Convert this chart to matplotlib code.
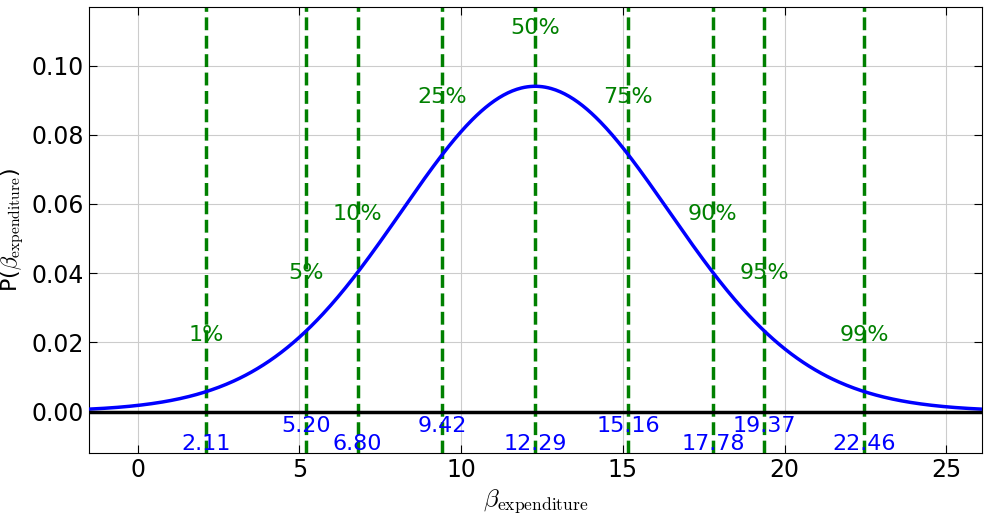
import math
import numpy as np
import matplotlib
matplotlib.use("Agg")
import matplotlib.pyplot as plt

plt.rcParams["mathtext.fontset"] = "cm"

percent_labels = ["1%", "5%", "10%", "25%", "50%", "75%", "90%", "95%", "99%"]
quantiles = [2.11, 5.20, 6.80, 9.42, 12.29, 15.16, 17.78, 19.37, 22.46]
label_y = [0.022, 0.040, 0.057, 0.091, 0.111, 0.091, 0.057, 0.040, 0.022]
value_y = [-0.0095, -0.0042, -0.0095, -0.0042, -0.0095, -0.0042, -0.0095, -0.0042, -0.0095]
loc, scale, dof = 12.29, 4.22, 45.0

x = np.linspace(-1.5, 26.1, 600)
z = (x - loc) / scale
c = math.gamma((dof + 1) / 2) / (math.sqrt(dof * math.pi) * math.gamma(dof / 2))
pdf = c * (1 + z**2 / dof) ** (-(dof + 1) / 2) / scale

fig = plt.figure(figsize=(9.89, 5.19), dpi=100)
ax = fig.add_axes([0.09, 0.127, 0.903, 0.86])
ax.plot(x, pdf, color="blue", lw=2.5, zorder=3)
ax.axhline(0, color="black", lw=2.5, zorder=3)
for q, lab, ly, vy in zip(quantiles, percent_labels, label_y, value_y):
    ax.axvline(q, color="green", ls="--", lw=2.5, zorder=2)
    ax.text(q, ly, lab, color="green", fontsize=16, ha="center", va="center")
    ax.text(q, vy, f"{q:.2f}", color="blue", fontsize=16, ha="center", va="center")
ax.set_xlim(-1.5, 26.1)
ax.set_ylim(-0.012, 0.117)
ax.set_xticks([0, 5, 10, 15, 20, 25])
ax.set_yticks([0.0, 0.02, 0.04, 0.06, 0.08, 0.10])
ax.set_yticklabels([f"{v:.2f}" for v in [0.0, 0.02, 0.04, 0.06, 0.08, 0.10]])
ax.grid(True, color="#cccccc", lw=0.8)
ax.set_axisbelow(True)
ax.tick_params(direction="in", top=True, right=True, labelsize=17, length=6)
ax.set_xlabel(r"$\beta_{\mathrm{expenditure}}$", fontsize=18)
ax.set_ylabel(r"P($\beta_{\mathrm{expenditure}}$)", fontsize=16)
fig.savefig("out.png", dpi=100)
